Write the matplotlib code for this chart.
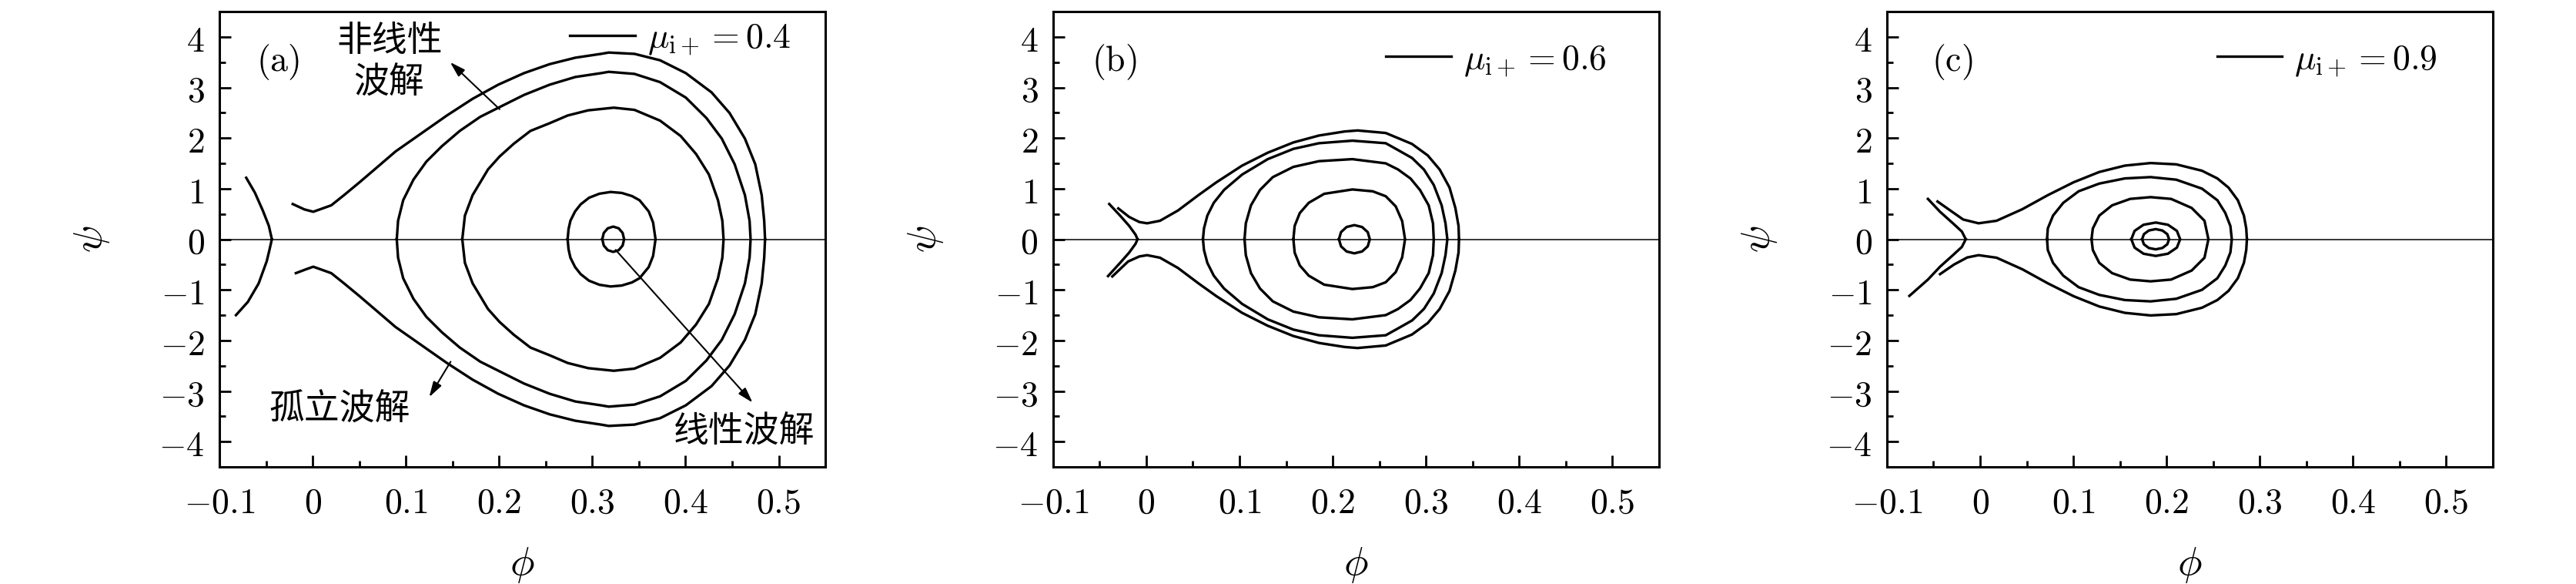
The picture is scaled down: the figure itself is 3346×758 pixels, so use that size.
import numpy as np
import matplotlib.pyplot as plt
from matplotlib.lines import Line2D
from matplotlib.ticker import MultipleLocator

plt.rcParams['mathtext.fontset'] = 'cm'
plt.rcParams['font.family'] = ['Noto Sans CJK SC', 'DejaVu Sans']

# axis ticks
phi_ticks = [-0.1, 0, 0.1, 0.2, 0.3, 0.4, 0.5]
phi_tick_labels = ['$-0.1$', '$0$', '$0.1$', '$0.2$', '$0.3$', '$0.4$', '$0.5$']
psi_ticks = [-4, -3, -2, -1, 0, 1, 2, 3, 4]
psi_tick_labels = ['$-4$', '$-3$', '$-2$', '$-1$', '$0$', '$1$', '$2$', '$3$', '$4$']

panel_tags = ['(a)', '(b)', '(c)']
mu_values = ['0.4', '0.6', '0.9']

# ---- panel (a), mu = 0.4 ----
# left branch (upper part, lower part)
a_left_up_phi = [-0.0713, -0.062, -0.0535, -0.047, -0.0438]
a_left_up_psi = [1.215, 0.92, 0.567, 0.263, 0.0]
a_left_dn_phi = [-0.0438, -0.0465, -0.0493, -0.058, -0.0696, -0.0823]
a_left_dn_psi = [0.0, -0.22, -0.434, -0.875, -1.24, -1.50]
# open orbit, upper branch (start -> right crossing)
a_open_phi = [-0.0214, -0.009, 0.0006, 0.0199, 0.0337, 0.0503, 0.0696, 0.0889, 0.1164, 0.1440,
              0.1716, 0.1991, 0.2267, 0.2543, 0.2818, 0.3094, 0.3176, 0.3452, 0.3727, 0.4003,
              0.4279, 0.4472, 0.4637, 0.4748, 0.4817, 0.4844, 0.4853]
a_open_psi = [0.696, 0.59, 0.543, 0.67, 0.873, 1.126, 1.43, 1.735, 2.09, 2.446,
              2.776, 3.055, 3.283, 3.461, 3.588, 3.664, 3.69, 3.664, 3.537, 3.283,
              2.903, 2.496, 1.989, 1.482, 0.873, 0.365, 0.0]
# open orbit, lower tail (end -> just before minimum)
a_open_tail_phi = [-0.018, -0.008]
a_open_tail_psi = [-0.67, -0.60]
# closed orbits, upper halves (left crossing -> right crossing)
a_orb1_phi = [0.0902, 0.0916, 0.0971, 0.1081, 0.1219, 0.1385, 0.1578, 0.1798, 0.2019, 0.2267,
              0.2543, 0.2818, 0.3094, 0.3176, 0.3452, 0.3727, 0.4003, 0.4224, 0.4389, 0.4527,
              0.4637, 0.4687, 0.4698]
a_orb1_psi = [0.0, 0.365, 0.772, 1.178, 1.533, 1.837, 2.141, 2.42, 2.624, 2.852,
              3.055, 3.207, 3.283, 3.309, 3.268, 3.105, 2.80, 2.396, 1.989, 1.482,
              0.873, 0.365, 0.0]
a_orb2_phi = [0.1605, 0.1633, 0.1716, 0.1881, 0.2005, 0.2157, 0.2336, 0.2543, 0.2736, 0.2956,
              0.323, 0.3452, 0.3727, 0.3948, 0.4113, 0.4251, 0.4348, 0.4395, 0.4408]
a_orb2_psi = [0.0, 0.467, 0.873, 1.38, 1.635, 1.887, 2.141, 2.294, 2.446, 2.548,
              2.60, 2.557, 2.344, 2.04, 1.685, 1.279, 0.772, 0.365, 0.0]
a_orb3_phi = [0.2735, 0.2745, 0.2765, 0.2815, 0.2875, 0.2965, 0.3076, 0.3196, 0.3316, 0.3426,
              0.3507, 0.3605, 0.3652, 0.3678]
a_orb3_psi = [0.0, 0.2, 0.365, 0.55, 0.69, 0.82, 0.9, 0.934, 0.915, 0.853,
              0.77, 0.55, 0.33, 0.0]
a_orb4_phi = [0.3107, 0.3123, 0.3166, 0.3224, 0.3283, 0.3325, 0.3341]
a_orb4_psi = [0.0, 0.125, 0.216, 0.25, 0.216, 0.125, 0.0]

# ---- panel (b), mu = 0.6 ----
b_left_up_phi = [-0.0397, -0.0281, -0.0184, -0.0115, -0.0094]
b_left_up_psi = [0.696, 0.467, 0.265, 0.09, 0.0]
b_left_dn_phi = [-0.0094, -0.0115, -0.0184, -0.0281, -0.041]
b_left_dn_psi = [0.0, -0.09, -0.265, -0.467, -0.728]
b_open_phi = [-0.030, -0.0184, -0.0074, 0.0009, 0.0147, 0.034, 0.056, 0.0752, 0.1028, 0.1303,
              0.1578, 0.1853, 0.2129, 0.2267, 0.2569, 0.285, 0.302, 0.3148, 0.3253, 0.3316,
              0.335, 0.3355]
b_open_psi = [0.609, 0.441, 0.34, 0.315, 0.365, 0.568, 0.872, 1.125, 1.455, 1.71,
              1.913, 2.05, 2.13, 2.15, 2.10, 1.884, 1.656, 1.377, 1.023, 0.618,
              0.263, 0.0]
b_open_tail_phi = [-0.0364, -0.0195, -0.0074]
b_open_tail_psi = [-0.735, -0.44, -0.34]
b_orb1_phi = [0.0608, 0.0619, 0.0655, 0.0724, 0.0834, 0.1028, 0.1303, 0.1578, 0.1853, 0.2211,
              0.2569, 0.2684, 0.2852, 0.2979, 0.3084, 0.3169, 0.321, 0.323]
b_orb1_psi = [0.0, 0.213, 0.467, 0.72, 0.974, 1.278, 1.583, 1.786, 1.898, 1.948,
              1.898, 1.78, 1.605, 1.377, 1.073, 0.668, 0.314, 0.0]
b_orb2_phi = [0.1054, 0.1068, 0.1123, 0.122, 0.1357, 0.1578, 0.1853, 0.2211, 0.2569, 0.27,
              0.2835, 0.2937, 0.303, 0.3076, 0.3084]
b_orb2_psi = [0.0, 0.315, 0.67, 0.974, 1.227, 1.43, 1.543, 1.583, 1.50, 1.38,
              1.2, 0.972, 0.668, 0.314, 0.0]
b_orb3_phi = [0.1578, 0.1592, 0.1647, 0.1743, 0.1909, 0.2211, 0.2430, 0.2569, 0.2676, 0.2745, 0.2776]
b_orb3_psi = [0.0, 0.265, 0.518, 0.72, 0.898, 0.984, 0.947, 0.85, 0.65, 0.36, 0.0]
b_orb4_phi = [0.2067, 0.2089, 0.2149, 0.2232, 0.2315, 0.2376, 0.2398]
b_orb4_psi = [0.0, 0.14, 0.242, 0.279, 0.242, 0.14, 0.0]

# ---- panel (c), mu = 0.9 ----
c_left_up_phi = [-0.056, -0.043, -0.0292, -0.0196, -0.0154]
c_left_up_psi = [0.797, 0.543, 0.315, 0.152, 0.0]
c_left_dn_phi = [-0.0154, -0.0196, -0.0292, -0.043, -0.056, -0.0759]
c_left_dn_psi = [0.0, -0.152, -0.315, -0.543, -0.797, -1.12]
c_open_phi = [-0.0457, -0.032, -0.0182, -0.0017, 0.0176, 0.0452, 0.0727, 0.1003, 0.1278, 0.1553,
              0.1829, 0.2104, 0.238, 0.2545, 0.2665, 0.2765, 0.283, 0.2855, 0.2862]
c_open_psi = [0.746, 0.568, 0.39, 0.315, 0.365, 0.593, 0.872, 1.126, 1.329, 1.455,
              1.506, 1.48, 1.354, 1.202, 1.02, 0.77, 0.466, 0.213, 0.0]
c_open_tail_phi = [-0.043, -0.028, -0.0138]
c_open_tail_psi = [-0.69, -0.50, -0.36]
c_orb1_phi = [0.0718, 0.0726, 0.0782, 0.0892, 0.1057, 0.1278, 0.1553, 0.1829, 0.2104, 0.238,
              0.2545, 0.263, 0.2685, 0.270]
c_orb1_psi = [0.0, 0.213, 0.467, 0.72, 0.948, 1.1, 1.202, 1.228, 1.177, 1.0,
              0.771, 0.52, 0.26, 0.0]
c_orb2_phi = [0.1195, 0.1209, 0.1278, 0.1416, 0.1609, 0.1829, 0.2049, 0.2269, 0.2407, 0.2449]
c_orb2_psi = [0.0, 0.213, 0.467, 0.67, 0.797, 0.832, 0.797, 0.619, 0.365, 0.0]
c_orb3_phi = [0.1622, 0.1657, 0.1753, 0.1884, 0.2015, 0.2111, 0.2146]
c_orb3_psi = [0.0, 0.165, 0.286, 0.33, 0.286, 0.165, 0.0]
c_orb4_phi = [0.1738, 0.1757, 0.181, 0.1883, 0.1955, 0.2008, 0.2027]
c_orb4_psi = [0.0, 0.1, 0.173, 0.2, 0.173, 0.1, 0.0]

panels = [
    dict(left=(a_left_up_phi, a_left_up_psi, a_left_dn_phi, a_left_dn_psi),
         open=(a_open_phi, a_open_psi, a_open_tail_phi, a_open_tail_psi),
         orbits=[(a_orb1_phi, a_orb1_psi), (a_orb2_phi, a_orb2_psi),
                 (a_orb3_phi, a_orb3_psi), (a_orb4_phi, a_orb4_psi)]),
    dict(left=(b_left_up_phi, b_left_up_psi, b_left_dn_phi, b_left_dn_psi),
         open=(b_open_phi, b_open_psi, b_open_tail_phi, b_open_tail_psi),
         orbits=[(b_orb1_phi, b_orb1_psi), (b_orb2_phi, b_orb2_psi),
                 (b_orb3_phi, b_orb3_psi), (b_orb4_phi, b_orb4_psi)]),
    dict(left=(c_left_up_phi, c_left_up_psi, c_left_dn_phi, c_left_dn_psi),
         open=(c_open_phi, c_open_psi, c_open_tail_phi, c_open_tail_psi),
         orbits=[(c_orb1_phi, c_orb1_psi), (c_orb2_phi, c_orb2_psi),
                 (c_orb3_phi, c_orb3_psi), (c_orb4_phi, c_orb4_psi)]),
]

LW = 2.4
FS = 33

fig = plt.figure(figsize=(33.46, 7.58), dpi=100)
lefts = [0.0852, 0.4088, 0.7325]
legend_anchor = [(0.276, 3.98), (0.257, 3.56), (0.254, 3.56)]
tag_pos = [(-0.037, 3.51), (-0.034, 3.51), (-0.030, 3.51)]

for i, p in enumerate(panels):
    ax = fig.add_axes([lefts[i], 0.2005, 0.2352, 0.7797])
    ax.axhline(0, color='k', lw=1.1, zorder=1)

    lu_phi, lu_psi, ld_phi, ld_psi = p['left']
    ax.plot(lu_phi, lu_psi, color='k', lw=LW)
    ax.plot(ld_phi, ld_psi, color='k', lw=LW)

    # open orbit: upper branch as read, lower branch = own tail + mirrored rest
    o_phi, o_psi, t_phi, t_psi = p['open']
    o_phi = np.array(o_phi)
    o_psi = np.array(o_psi)
    ax.plot(o_phi, o_psi, color='k', lw=LW)
    n = len(t_phi)
    ax.plot(np.r_[t_phi, o_phi[n:]], np.r_[t_psi, -o_psi[n:]], color='k', lw=LW)

    # closed orbits are symmetric about psi = 0
    for ph, ps in p['orbits']:
        ph = np.array(ph)
        ps = np.array(ps)
        ax.plot(np.r_[ph, ph[::-1]], np.r_[ps, -ps[::-1]], color='k', lw=LW)

    ax.set_xlim(-0.1, 0.55)
    ax.set_ylim(-4.5, 4.5)
    ax.set_xticks(phi_ticks, labels=phi_tick_labels)
    ax.set_yticks(psi_ticks, labels=psi_tick_labels)
    ax.xaxis.set_minor_locator(MultipleLocator(0.05))
    ax.yaxis.set_minor_locator(MultipleLocator(0.5))
    ax.tick_params(which='both', direction='in', top=False, right=False, width=2,
                   labelsize=FS)
    ax.tick_params(axis='x', which='major', length=11, pad=16)
    ax.tick_params(axis='y', which='major', length=11, pad=14)
    ax.tick_params(which='minor', length=5.5)
    for s in ax.spines.values():
        s.set_linewidth(2.2)

    ax.set_xlabel(r'$\phi$', fontsize=38)
    ax.set_ylabel(r'$\psi$', fontsize=38)
    ax.xaxis.set_label_coords(0.5, -0.165)
    ax.yaxis.set_label_coords(-0.178, 0.5)

    ax.text(*tag_pos[i], r'$\mathrm{' + panel_tags[i] + '}$', fontsize=FS,
            ha='center', va='center')

    h = Line2D([], [], color='k', lw=LW)
    ax.legend([h], [r'$\mu_{\mathrm{i}+}=' + mu_values[i] + '$'],
              loc='center left', bbox_to_anchor=legend_anchor[i],
              bbox_transform=ax.transData, frameon=False, fontsize=FS,
              handlelength=1.85, handletextpad=0.35, borderpad=0, borderaxespad=0)

    if i == 0:
        arrow = dict(arrowstyle='-|>,head_length=0.6,head_width=0.18', color='k',
                     lw=1.5, mutation_scale=20, shrinkA=0, shrinkB=0)
        ax.annotate('', xy=(0.1474, 3.50), xytext=(0.2005, 2.57), arrowprops=arrow)
        ax.annotate('', xy=(0.125, -3.12), xytext=(0.148, -2.42), arrowprops=arrow)
        ax.annotate('', xy=(0.472, -3.23), xytext=(0.325, -0.21), arrowprops=arrow)
        ax.text(0.0828, 3.93, '非线性', fontsize=FS, ha='center', va='center')
        ax.text(0.082, 3.09, '波解', fontsize=FS, ha='center', va='center')
        ax.text(0.029, -3.37, '孤立波解', fontsize=FS, ha='center', va='center')
        ax.text(0.463, -3.80, '线性波解', fontsize=FS, ha='center', va='center')

fig.savefig('out.png', dpi=100)
